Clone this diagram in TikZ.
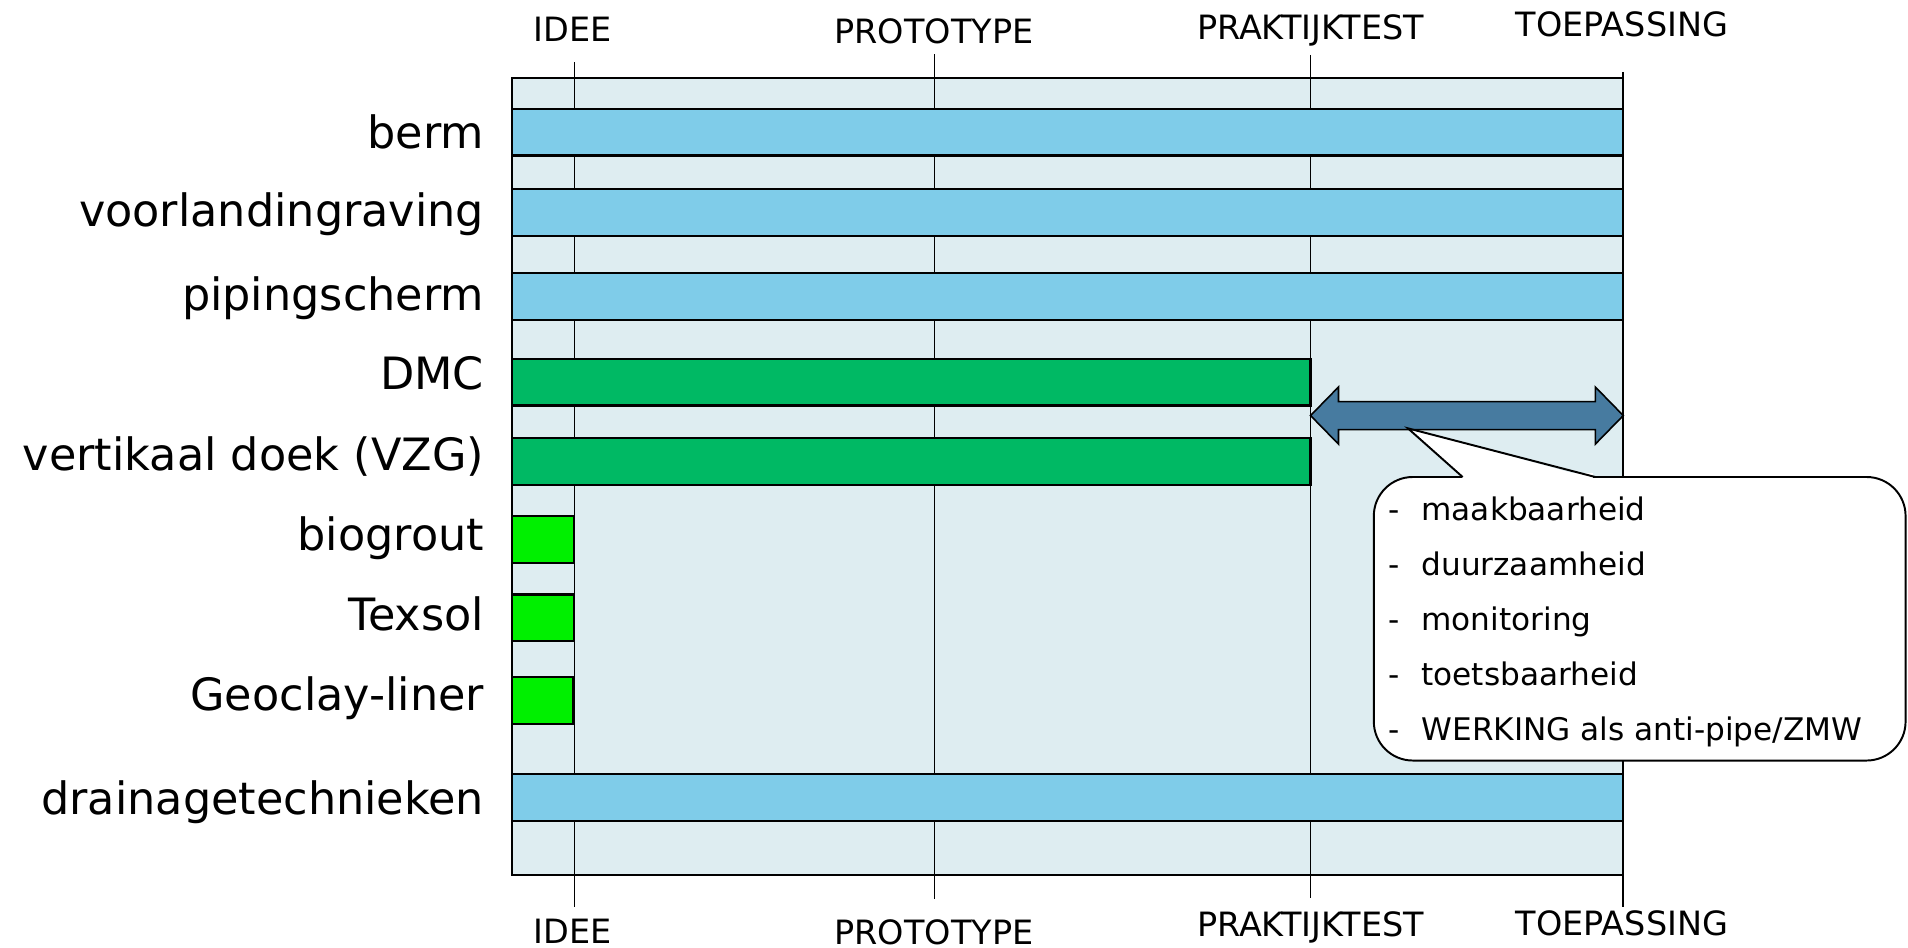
\documentclass[tikz,border=0pt]{standalone}
\usepackage{fontspec}
\setmainfont{DejaVu Sans}
\definecolor{bgc}{HTML}{DEEDF1}
\definecolor{bluebarc}{HTML}{7FCCE9}
\definecolor{dgreenc}{HTML}{00B964}
\definecolor{lgreenc}{HTML}{00F000}
\definecolor{arrowc}{HTML}{477BA0}
\tikzset{
  frameline/.style={draw=black, line width=1.6pt},
  tickline/.style={draw=black, line width=1.3pt},
  barbox/.style={rectangle, draw=black, line width=1.8pt, inner sep=0pt, outer sep=0pt, anchor=north west, minimum height=38.5pt},
  bluebar/.style={barbox, fill=bluebarc},
  dgreenbar/.style={barbox, fill=dgreenc},
  lgreenbar/.style={barbox, fill=lgreenc},
  rowlabel/.style={anchor=base east, inner sep=0pt, font=\fontsize{36.6}{40}\selectfont},
  phaselabel/.style={anchor=base, inner sep=0pt, text depth=0pt, font=\fontsize{27.5}{30}\selectfont},
  calltext/.style={anchor=base west, inner sep=0pt, font=\fontsize{25.6}{28}\selectfont},
}
\begin{document}
\begin{tikzpicture}[x=1pt,y=-1pt]
\useasboundingbox (0,0) rectangle (1568,778.3);
% frame
\path[fill=bgc] (421,64) rectangle (1334,719);
% phase lines
\coordinate (iT) at (472,51);   \coordinate (iB) at (472,745);
\coordinate (pT) at (768,44.7); \coordinate (pB) at (768,739);
\coordinate (kT) at (1077,45);  \coordinate (kB) at (1077,738);
\coordinate (tT) at (1334,59);  \coordinate (tB) at (1334,745);
\draw[tickline] (iT) -- (iB);
\draw[tickline] (pT) -- (pB);
\draw[tickline] (kT) -- (kB);
\draw[tickline] (tT) -- (tB);
\draw[frameline] (421,64) rectangle (1334,719);
% phase labels
\node[phaselabel] (lidee) at (470.8,34.2) {IDEE};
\node[phaselabel] (lproto) at (767.5,35.6) {PROTOTYPE};
\node[phaselabel] (lprak) at (1077,32.3) {PRAKTIJKTEST};
\node[phaselabel] (ltoep) at (1333,29.6) {TOEPASSING};
\node[phaselabel] (bidee) at (470.8,775) {IDEE};
\node[phaselabel] (bproto) at (767.5,776) {PROTOTYPE};
\node[phaselabel] (bprak) at (1077,770) {PRAKTIJKTEST};
\node[phaselabel] (btoep) at (1333,769) {TOEPASSING};
% bars
\node[bluebar, minimum width=913pt] (berm) at (421,89.3) {};
\node[bluebar, minimum width=913pt] (voorl) at (421,155.5) {};
\node[bluebar, minimum width=913pt] (piping) at (421,224.5) {};
\node[dgreenbar, minimum width=656pt] (dmc) at (421,294.8) {};
\node[dgreenbar, minimum width=656pt] (vzg) at (421,360) {};
\node[lgreenbar, minimum width=51pt] (bio) at (421,424.2) {};
\node[lgreenbar, minimum width=51pt] (tex) at (421,488.5) {};
\node[lgreenbar, minimum width=50pt] (geo) at (421,556.5) {};
\node[bluebar, minimum width=913pt] (drain) at (421,636) {};
% row labels
\node[rowlabel] (tberm) at (398,122) {berm};
\node[rowlabel] (tvoorl) at (398,186.3) {voorlandingraving};
\node[rowlabel] (tpiping) at (398,254.8) {pipingscherm};
\node[rowlabel] (tdmc) at (398,320.5) {DMC};
\node[rowlabel] (tvzg) at (398,386.3) {vertikaal doek (VZG)};
\node[rowlabel] (tbio) at (398,452) {biogrout};
\node[rowlabel] (ttex) at (398,517.8) {Texsol};
\node[rowlabel] (tgeo) at (398,584) {Geoclay-liner};
\node[rowlabel] (tdrain) at (398,669) {drainagetechnieken};
% double arrow
\draw[fill=arrowc, draw=black, line width=1.3pt, line join=miter]
  (1077,341.5) -- (1100,318) -- (1100,330) -- (1311,330) -- (1311,318) -- (1334,341.5)
  -- (1311,365) -- (1311,353) -- (1100,353) -- (1100,365) -- cycle;
% callout
\coordinate (ctip) at (1157,352);
\coordinate (cb1) at (1202,392);
\coordinate (cb2) at (1311,392);
\draw[fill=white, draw=black, line width=1.6pt, rounded corners=32pt] (1129,392) rectangle (1566,625);
\fill[white] (ctip) -- (1310,393.5) -- (1203,393.5) -- cycle;
\fill[white] (1203.5,389) rectangle (1309.5,394.5);
\draw[black, line width=1.6pt, line join=miter] (cb1) -- (ctip) -- (cb2);
\foreach \t [count=\i from 0] in {maakbaarheid,duurzaamheid,monitoring,toetsbaarheid,WERKING als anti-pipe/ZMW}{
  \node[calltext] (cd\i) at (1141,428+45.2*\i) {-};
  \node[calltext] (ct\i) at (1168,428+45.2*\i) {\t};
}
\end{tikzpicture}
\end{document}
